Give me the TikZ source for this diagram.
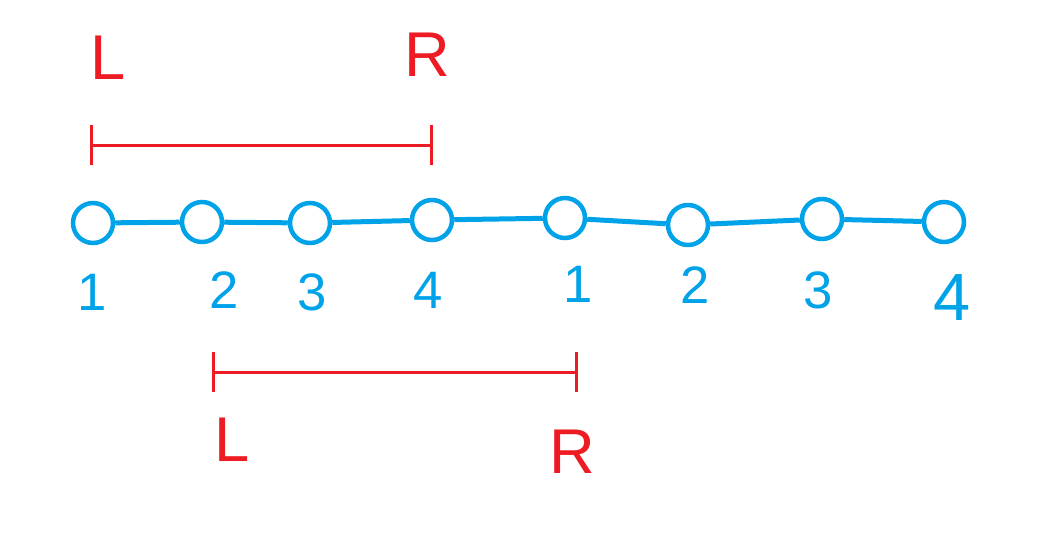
\documentclass[tikz,border=0pt]{standalone}
\usepackage{fontspec}
\setmainfont{Liberation Sans}
\usetikzlibrary{arrows.meta,positioning}
\definecolor{paintblue}{RGB}{0,162,232}
\definecolor{paintred}{RGB}{237,28,36}

\begin{document}
\begin{tikzpicture}[x=0.2mm,y=-0.2mm,
  every node/.style={font=\fontsize{30}{30}\selectfont,align=center},
  vertex/.style={circle,draw=paintblue,line width=0.9mm,fill=white,
                 minimum size=8.0mm,inner sep=0pt},
  link/.style={draw=paintblue,line width=1mm},
  num/.style={text=paintblue,inner sep=0pt},
  side/.style={text=paintred,inner sep=0pt,font=\fontsize{36}{36}\selectfont},
  span/.style={draw=paintred,line width=0.6mm,
               {Bar[width=8mm,line width=0.6mm]}-{Bar[width=8mm,line width=0.6mm]}}
]
\useasboundingbox (0,0) rectangle (1050,537);

% vertices
\foreach \n/\px/\py in {a1/93/223, a2/202/222, a3/310/223, a4/432/220,
                        b1/565/218, b2/688/225, b3/822/219, b4/944/222}
  \node[vertex] (\n) at (\px,\py) {};

\foreach \u/\v in {a1/a2, a2/a3, a3/a4, a4/b1, b1/b2, b2/b3, b3/b4}
  \draw[link] (\u) -- (\v);

% indices
\node[num] (na1) at (92,292)  {1};
\node[num] (na2) at (224,290) {2};
\node[num] (na3) at (312,292) {3};
\node[num] (na4) at (428,290) {4};
\node[num] (nb1) at (578,284) {1};
\node[num] (nb2) at (695,285) {2};
\node[num] (nb3) at (818,290) {3};
\node[num,font=\fontsize{38}{38}\selectfont] (nb4) at (952,298) {4};

% windows
\coordinate (topl) at (90,145);
\coordinate (topr) at (433,145);
\draw[span] (topl) -- (topr);
\node[side] (toplbl) at (108,58) {L};
\node[side] (toprbl) at (427,55) {R};

\coordinate (botl) at (212,372);
\coordinate (botr) at (578,372);
\draw[span] (botl) -- (botr);
\node[side] (botllbl) at (232,440) {L};
\node[side] (botrlbl) at (572,452) {R};

\end{tikzpicture}
\end{document}
